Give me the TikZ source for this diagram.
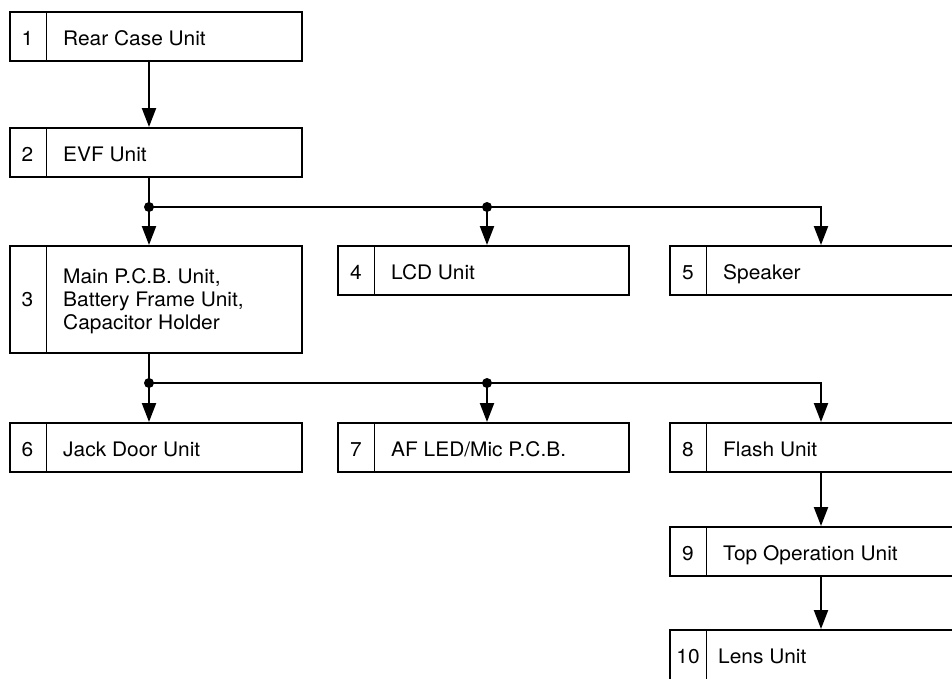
\documentclass[tikz,border=0pt]{standalone}
\usepackage{fontspec}
\setmainfont{TeX Gyre Heros}[FakeStretch=1.045]
\usetikzlibrary{arrows.meta}
\begin{document}
\begin{tikzpicture}[x=1pt,y=-1pt,
  box/.style={draw, line width=1.5pt, rectangle, inner sep=0pt, anchor=north west, minimum height=49pt},
  divline/.style={line width=1.5pt},
  num/.style={font=\fontsize{20}{23}\selectfont, inner sep=0pt, anchor=base},
  lbl/.style={font=\fontsize{20}{23}\selectfont, inner sep=0pt, anchor=base west, align=left},
  wire/.style={line width=2.2pt},
  conn/.style={line width=2.2pt, -{Triangle[length=19pt,width=14pt]}},
  jdot/.style={circle, fill, inner sep=0pt, minimum size=10pt}]
\useasboundingbox (0,0) rectangle (952,678);
\clip (0,0) rectangle (952,678);
% column x positions of connectors
\coordinate (L) at (149,0);
\coordinate (M) at (487,0);
\coordinate (R) at (821,0);
% boxes
\node[box, minimum width=292pt] (b1) at (9,11) {};
\node[box, minimum width=292pt] (b2) at (9,127) {};
\node[box, minimum width=292pt, minimum height=107pt] (b3) at (9,245) {};
\node[box, minimum width=291pt] (b4) at (337,245) {};
\node[box, minimum width=300pt] (b5) at (669,245) {};
\node[box, minimum width=292pt] (b6) at (9,422) {};
\node[box, minimum width=291pt] (b7) at (337,422) {};
\node[box, minimum width=300pt] (b8) at (669,422) {};
\node[box, minimum width=300pt] (b9) at (669,526) {};
\node[box, minimum width=300pt, minimum height=55pt] (b10) at (669,629) {};
% dividers
\foreach \b in {b1,b2,b3,b4,b5,b6,b7,b8,b9,b10}
  \draw[divline] (\b.north west) ++(37.5,0) coordinate (d) -- (d |- \b.south);
% numbers
\node[num] (n1) at (27.5,45) {1};
\node[num] (n2) at (27.5,161) {2};
\node[num] (n3) at (27.5,306) {3};
\node[num] (n4) at (356,279) {4};
\node[num] (n5) at (688,279) {5};
\node[num] (n6) at (27.5,456) {6};
\node[num] (n7) at (356,456) {7};
\node[num] (n8) at (688,456) {8};
\node[num] (n9) at (688,560) {9};
\node[num] (n10) at (688,663) {10};
% labels
\node[lbl] (t1) at (63,45) {Rear Case Unit};
\node[lbl] (t2) at (63,161) {EVF Unit};
\node[lbl] (t3) at (63,329) {Main P.C.B. Unit,\\Battery Frame Unit,\\Capacitor Holder};
\node[lbl] (t4) at (391,279) {LCD Unit};
\node[lbl] (t5) at (723,279) {Speaker};
\node[lbl] (t6) at (63,456) {Jack Door Unit};
\node[lbl] (t7) at (391,456) {AF LED/Mic P.C.B.};
\node[lbl] (t8) at (723,456) {Flash Unit};
\node[lbl] (t9) at (723,560) {Top Operation Unit};
\node[lbl] (t10) at (718,663) {Lens Unit};
% junctions
\coordinate (j1) at (149,207);
\coordinate (j2) at (487,207);
\coordinate (j3) at (149,383);
\coordinate (j4) at (487,383);
% connectors
\draw[conn] (b1.south -| L) -- (b2.north -| L);
\draw[wire] (b2.south -| L) -- (j1);
\draw[conn] (j1) -- (b3.north -| L);
\draw[conn] (j1) -| (b5.north -| R);
\draw[conn] (j2) -- (b4.north -| M);
\draw[wire] (b3.south -| L) -- (j3);
\draw[conn] (j3) -- (b6.north -| L);
\draw[conn] (j3) -| (b8.north -| R);
\draw[conn] (j4) -- (b7.north -| M);
\draw[conn] (b8.south -| R) -- (b9.north -| R);
\draw[conn] (b9.south -| R) -- (b10.north -| R);
\node[jdot] (dj1) at (j1) {};
\node[jdot] (dj2) at (j2) {};
\node[jdot] (dj3) at (j3) {};
\node[jdot] (dj4) at (j4) {};
\end{tikzpicture}
\end{document}
